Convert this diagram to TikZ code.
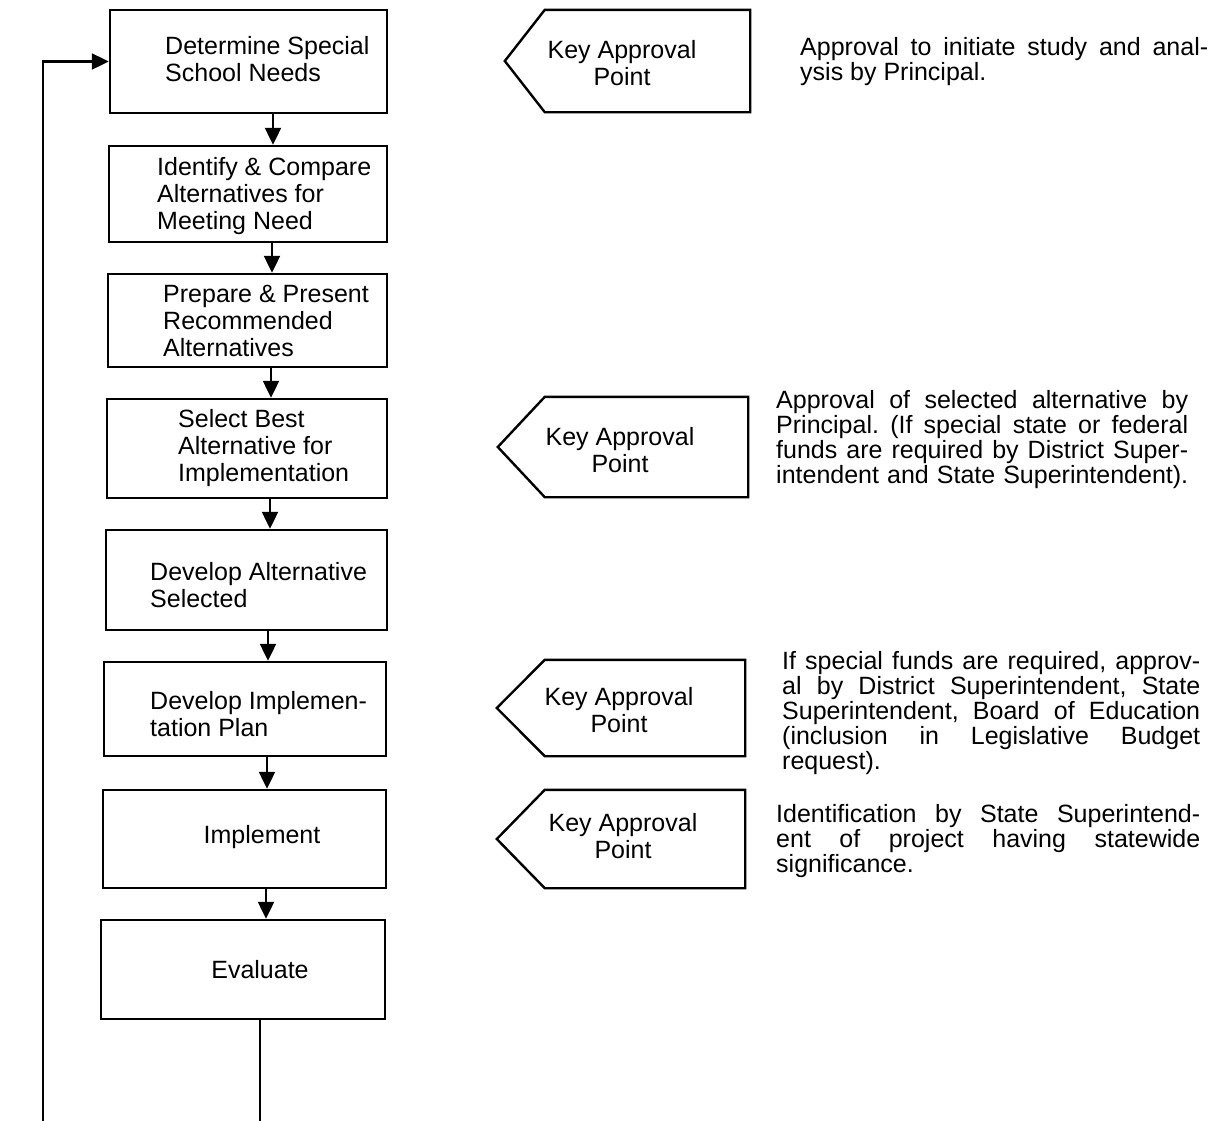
\documentclass[tikz,border=0pt]{standalone}
\usepackage{fontspec}
\setmainfont{Liberation Sans}
\usetikzlibrary{arrows.meta}
\frenchspacing
\newcommand{\kapshape}[2]{\draw[line, line join=miter] (#1.north east) -- (#1.north west) -- ([xshift=-#2pt]#1.west) -- (#1.south west) -- (#1.south east) -- cycle;}
\begin{document}
\begin{tikzpicture}[x=1pt,y=-1pt,
  line/.style={line width=2.4pt},
  box/.style={draw, line width=2.4pt, inner sep=0pt},
  body/.style={inner sep=0pt},
  txt/.style={inner sep=0pt, align=left, font=\fontsize{25}{27}\selectfont},
  rtxt/.style={inner sep=0pt, align=left, anchor=west, font=\fontsize{25}{25}\selectfont},
  arr/.style={line width=2.2pt, -{Triangle[width=16pt,length=17pt]}}]
\useasboundingbox (0,0) rectangle (1214,1120);
\clip (0,0) rectangle (1214,1120);

% process boxes
\node[box, minimum width=277pt, minimum height=103pt] (b1) at (248.5,61.5) {};
\node[box, minimum width=278pt, minimum height=96pt]  (b2) at (248,194) {};
\node[box, minimum width=279pt, minimum height=93pt]  (b3) at (247.5,320.5) {};
\node[box, minimum width=280pt, minimum height=99pt]  (b4) at (247,448.5) {};
\node[box, minimum width=281pt, minimum height=100pt] (b5) at (246.5,580) {};
\node[box, minimum width=282pt, minimum height=94pt]  (b6) at (245,709) {};
\node[box, minimum width=283pt, minimum height=98pt]  (b7) at (244.5,839) {};
\node[box, minimum width=284pt, minimum height=99pt]  (b8) at (243,969.5) {};

% box texts
\node[txt, anchor=west] (t1) at (165,59) {Determine Special\\School Needs};
\node[txt, anchor=west] (t2) at (157,196) {Identify \& Compare\\Alternatives for\\Meeting Need};
\node[txt, anchor=west] (t3) at (163,321) {Prepare \& Present\\Recommended\\Alternatives};
\node[txt, anchor=west] (t4) at (178,448) {Select Best\\Alternative for\\Implementation};
\node[txt, anchor=west] (t5) at (150,585) {Develop Alternative\\Selected};
\node[txt, anchor=west] (t6) at (150,714) {Develop Implemen-\\tation Plan};
\node[txt] (t7) at (262,837) {Implement};
\node[txt] (t8) at (260,970) {Evaluate};

% arrows between boxes
\coordinate (a1) at (273,0);
\coordinate (a2) at (272,0);
\coordinate (a3) at (271,0);
\coordinate (a4) at (270,0);
\coordinate (a5) at (268,0);
\coordinate (a6) at (267,0);
\coordinate (a7) at (266,0);
\draw[arr] (b1.south -| a1) -- (b2.north -| a1);
\draw[arr] (b2.south -| a2) -- (b3.north -| a2);
\draw[arr] (b3.south -| a3) -- (b4.north -| a3);
\draw[arr] (b4.south -| a4) -- (b5.north -| a4);
\draw[arr] (b5.south -| a5) -- (b6.north -| a5);
\draw[arr] (b6.south -| a6) -- (b7.north -| a6);
\draw[arr] (b7.south -| a7) -- (b8.north -| a7);

% feedback loop
\coordinate (lb) at (260,1140);
\coordinate (ll) at (43,1140);
\draw[arr] (b8.south -| lb) -- (lb) -- (ll) |- (b1.west);

% key approval points
\node[body, minimum width=205pt, minimum height=102pt] (k1) at (647.5,61) {};
\kapshape{k1}{40}
\node[txt, align=center] (k1t) at (622,63) {Key Approval\\Point};
\node[body, minimum width=203pt, minimum height=100pt] (k2) at (646.5,447) {};
\kapshape{k2}{47}
\node[txt, align=center] (k2t) at (620,450) {Key Approval\\Point};
\node[body, minimum width=200pt, minimum height=96pt] (k3) at (645,708) {};
\kapshape{k3}{48}
\node[txt, align=center] (k3t) at (619,710) {Key Approval\\Point};
\node[body, minimum width=200pt, minimum height=98pt] (k4) at (645,839) {};
\kapshape{k4}{48}
\node[txt, align=center] (k4t) at (623,836) {Key Approval\\Point};

% notes
\node[rtxt] (n1) at (800,62) {\makebox[408pt][s]{Approval to initiate study and anal-}\\ysis by Principal.};
\node[rtxt] (n2) at (776,440) {\makebox[412pt][s]{Approval of selected alternative by}\\\makebox[412pt][s]{Principal. (If special state or federal}\\\makebox[412pt][s]{funds are required by District Super-}\\\makebox[412pt][s]{intendent and State Superintendent).}};
\node[rtxt] (n3) at (782,713) {\makebox[418pt][s]{If special funds are required, approv-}\\\makebox[418pt][s]{al by District Superintendent, State}\\\makebox[418pt][s]{Superintendent, Board of Education}\\\makebox[418pt][s]{(inclusion in Legislative Budget}\\request).};
\node[rtxt] (n4) at (776,841) {\makebox[424pt][s]{Identification by State Superintend-}\\\makebox[424pt][s]{ent of project having statewide}\\significance.};
\end{tikzpicture}
\end{document}
